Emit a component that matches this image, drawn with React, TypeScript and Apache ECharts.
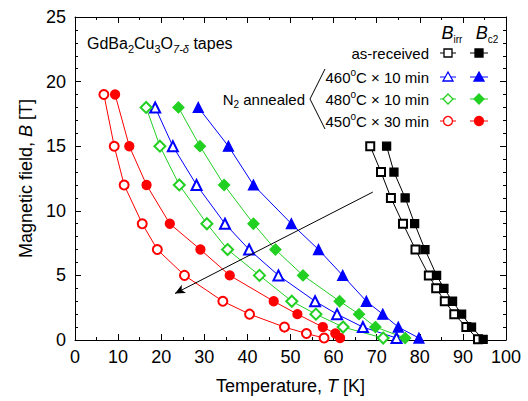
import React, { useEffect, useRef } from 'react';
import * as echarts from 'echarts';

// Magnetic field values (T) for each curve
const fieldAsReceived = [15, 13, 11, 9, 7, 5, 4, 3, 2, 1, 0.05];
const fieldAnnealed = [18, 15, 12, 9, 7, 5, 3, 2, 1, 0.15];
const field450 = [19, 15, 12, 9, 7, 5, 3, 2, 1, 0.5, 0.15];

// Temperatures (K)
const tIrrAsReceived = [68.5, 71.0, 73.3, 76.1, 79.0, 82.1, 83.8, 85.8, 88.0, 90.8, 93.5];
const tC2AsReceived = [72.3, 74.0, 76.6, 78.8, 81.2, 83.9, 85.6, 87.6, 89.7, 92.0, 94.7];

const tIrr460 = [18.6, 22.7, 28.2, 34.8, 40.4, 47.2, 55.7, 60.8, 66.8, 74.6];
const tC2460 = [28.6, 35.6, 41.4, 50.2, 56.5, 62.1, 67.6, 71.4, 75.0, 79.8];

const tIrr480 = [16.5, 19.7, 24.2, 30.6, 35.4, 42.8, 50.3, 55.9, 62.2, 71.5];
const tC2480 = [24.0, 29.0, 34.6, 41.4, 46.5, 52.9, 61.4, 65.9, 69.7, 76.6];

const tIrr450 = [6.7, 9.1, 11.4, 15.6, 19.1, 25.4, 34.3, 40.5, 48.6, 53.7, 57.8];
const tC2450 = [9.3, 12.6, 16.6, 22.0, 29.1, 35.9, 46.1, 51.6, 57.5, 60.4, 61.5];

// Arrow (T, B)
const arrowFrom = [69.1, 11.45];
const arrowTo = [23.2, 3.6];

const legendRows = ['as-received', '460', '480', '450'];

const FONT = 'Liberation Sans, Arial, Helvetica, sans-serif';
const BLACK = '#000000';
const BLUE = '#0000ff';
const GREEN = '#22d022';
const RED = '#ff0000';

function pairs(t: number[], b: number[]) {
  return t.map((x, i) => [x, b[i]]);
}

function mkSeries(name: string, t: number[], b: number[], color: string, symbol: string, size: number) {
  return {
    name,
    type: 'line',
    data: pairs(t, b),
    symbol,
    symbolSize: size,
    showSymbol: true,
    lineStyle: { color, width: 1 },
    itemStyle: { color, borderColor: color, borderWidth: 1.3 },
    emphasis: { disabled: true },
    z: 3,
  };
}

const supRich = {
  n: { fontSize: 15, fontFamily: FONT, fill: BLACK, lineHeight: 20, verticalAlign: 'middle' },
  m: { fontSize: 16, fontFamily: FONT, fill: BLACK, lineHeight: 22, verticalAlign: 'middle' },
  sup: { fontSize: 10, fontFamily: FONT, fill: BLACK, lineHeight: 10, verticalAlign: 'top' },
  sub: { fontSize: 10, fontFamily: FONT, fill: BLACK, lineHeight: 10, verticalAlign: 'bottom' },
  msub: { fontSize: 11, fontFamily: FONT, fill: BLACK, lineHeight: 11, verticalAlign: 'bottom' },
  msubi: { fontSize: 11, fontFamily: FONT, fontStyle: 'italic', fill: BLACK, lineHeight: 11, verticalAlign: 'bottom' },
  bi: { fontSize: 18, fontFamily: FONT, fontStyle: 'italic', fill: BLACK, lineHeight: 22, verticalAlign: 'middle' },
};

function rowLabel(key: string) {
  if (key === 'as-received') return '{n|as-received}';
  const dur = key === '450' ? '30' : '10';
  return `{n|${key}}{sup|o}{n|C × ${dur} min}`;
}

function legendGraphics() {
  const els: any[] = [];
  const rowY = [53, 77, 99, 121];
  const openX = 448;
  const fillX = 479;
  const styles = [
    { color: BLACK, shape: 'square' },
    { color: BLUE, shape: 'triangle' },
    { color: GREEN, shape: 'diamond' },
    { color: RED, shape: 'circle' },
  ];
  const sym = (shape: string, cx: number, cy: number, color: string, filled: boolean) => {
    const style = { fill: filled ? color : '#ffffff', stroke: color, lineWidth: 1.3 };
    if (shape === 'square') return { type: 'rect', shape: { x: cx - 4, y: cy - 4, width: 8, height: 8 }, style, z: 10 };
    if (shape === 'circle') return { type: 'circle', shape: { cx, cy, r: 4.5 }, style, z: 10 };
    if (shape === 'triangle')
      return { type: 'polygon', shape: { points: [[cx, cy - 5], [cx + 5, cy + 4], [cx - 5, cy + 4]] }, style, z: 10 };
    return { type: 'polygon', shape: { points: [[cx, cy - 5], [cx + 5, cy], [cx, cy + 5], [cx - 5, cy]] }, style, z: 10 };
  };
  legendRows.forEach((key, i) => {
    const y = rowY[i];
    const s = styles[i];
    els.push({
      type: 'text',
      x: 429,
      y,
      style: { text: rowLabel(key), rich: supRich, align: 'right', verticalAlign: 'middle' },
      z: 10,
    });
    els.push({ type: 'line', shape: { x1: openX - 8, y1: y, x2: openX + 8, y2: y }, style: { stroke: s.color, lineWidth: 1 }, z: 9 });
    els.push({ type: 'line', shape: { x1: fillX - 9, y1: y, x2: fillX + 9, y2: y }, style: { stroke: s.color, lineWidth: 1 }, z: 9 });
    els.push(sym(s.shape, openX, y, s.color, false));
    els.push(sym(s.shape, fillX, y, s.color, true));
  });
  // headers
  els.push({
    type: 'text', x: 452, y: 33,
    style: { text: '{bi|B}{sub|irr}', rich: supRich, align: 'center', verticalAlign: 'middle' }, z: 10,
  });
  els.push({
    type: 'text', x: 487, y: 33,
    style: { text: '{bi|B}{sub|c2}', rich: supRich, align: 'center', verticalAlign: 'middle' }, z: 10,
  });
  // N2 annealed + bracket
  els.push({
    type: 'text', x: 305, y: 99,
    style: { text: '{n|N}{sub|2}{n| annealed}', rich: supRich, align: 'right', verticalAlign: 'middle' }, z: 10,
  });
  els.push({
    type: 'polyline',
    shape: { points: [[325, 69], [310, 99], [325, 129]] },
    style: { stroke: BLACK, lineWidth: 1, fill: 'none' },
    z: 10,
  });
  // Material label
  els.push({
    type: 'text', x: 87, y: 43,
    style: {
      text: '{m|GdBa}{msub|2}{m|Cu}{msub|3}{m|O}{msubi|7-δ}{m| tapes}',
      rich: supRich, align: 'left', verticalAlign: 'middle',
    },
    z: 10,
  });
  return els;
}

function axisCommon(show: boolean, minorSplit: number) {
  return {
    axisLine: { show: true, onZero: false, lineStyle: { color: BLACK, width: 1 } },
    axisTick: { show: true, inside: true, length: 6, lineStyle: { color: BLACK, width: 1 } },
    minorTick: { show: true, splitNumber: minorSplit, length: 3, lineStyle: { color: BLACK, width: 1 } },
    axisLabel: { show, color: BLACK, fontSize: 18, fontFamily: FONT },
    splitLine: { show: false },
  };
}

export default function App() {
  const ref = useRef<HTMLDivElement>(null);
  useEffect(() => {
    document.body.style.margin = '0';
    if (!ref.current) return;
    const chart = echarts.init(ref.current, undefined, { renderer: 'svg' });
    const option: any = {
      animation: false,
      backgroundColor: '#ffffff',
      grid: { left: 75, right: 22, top: 17, bottom: 61 },
      xAxis: [
        {
          type: 'value', min: 0, max: 100, interval: 10, position: 'bottom',
          ...axisCommon(true, 2),
          axisLabel: { show: true, color: BLACK, fontSize: 18, fontFamily: FONT, margin: 8 },
          name: '{n|Temperature, }{i|T}{n| [K]}',
          nameLocation: 'middle',
          nameGap: 37,
          nameTextStyle: {
            rich: {
              n: { fontSize: 18, fontFamily: FONT, color: BLACK },
              i: { fontSize: 18, fontFamily: FONT, fontStyle: 'italic', color: BLACK },
            },
          },
        },
        {
          type: 'value', min: 0, max: 100, interval: 10, position: 'top',
          ...axisCommon(false, 2),
        },
      ],
      yAxis: [
        {
          type: 'value', min: 0, max: 25, interval: 5, position: 'left',
          ...axisCommon(true, 5),
          axisLabel: { show: true, color: BLACK, fontSize: 18, fontFamily: FONT, margin: 9 },
          name: '{n|Magnetic field, }{i|B}{n| [T]}',
          nameLocation: 'middle',
          nameGap: 38,
          nameTextStyle: {
            rich: {
              n: { fontSize: 18, fontFamily: FONT, color: BLACK },
              i: { fontSize: 18, fontFamily: FONT, fontStyle: 'italic', color: BLACK },
            },
          },
        },
        {
          type: 'value', min: 0, max: 25, interval: 5, position: 'right',
          ...axisCommon(false, 5),
        },
      ],
      series: [
        {
          name: 'arrow',
          type: 'line',
          data: [],
          markLine: {
            silent: true,
            symbol: ['none', 'arrow'],
            symbolSize: [7, 10],
            label: { show: false },
            lineStyle: { color: BLACK, width: 1, type: 'solid' },
            data: [[{ coord: arrowFrom }, { coord: arrowTo }]],
          },
          z: 2,
        },
        mkSeries('as-received Birr', tIrrAsReceived, fieldAsReceived, BLACK, 'emptyRect', 8),
        mkSeries('as-received Bc2', tC2AsReceived, fieldAsReceived, BLACK, 'rect', 8),
        mkSeries('460 Birr', tIrr460, fieldAnnealed, BLUE, 'emptyTriangle', 10),
        mkSeries('460 Bc2', tC2460, fieldAnnealed, BLUE, 'triangle', 10),
        mkSeries('480 Birr', tIrr480, fieldAnnealed, GREEN, 'emptyDiamond', 11),
        mkSeries('480 Bc2', tC2480, fieldAnnealed, GREEN, 'diamond', 11),
        mkSeries('450 Birr', tIrr450, field450, RED, 'emptyCircle', 9),
        mkSeries('450 Bc2', tC2450, field450, RED, 'circle', 9),
      ],
      graphic: legendGraphics(),
    };
    chart.setOption(option);
    return () => chart.dispose();
  }, []);
  return <div ref={ref} style={{ width: 528, height: 401 }} />;
}
